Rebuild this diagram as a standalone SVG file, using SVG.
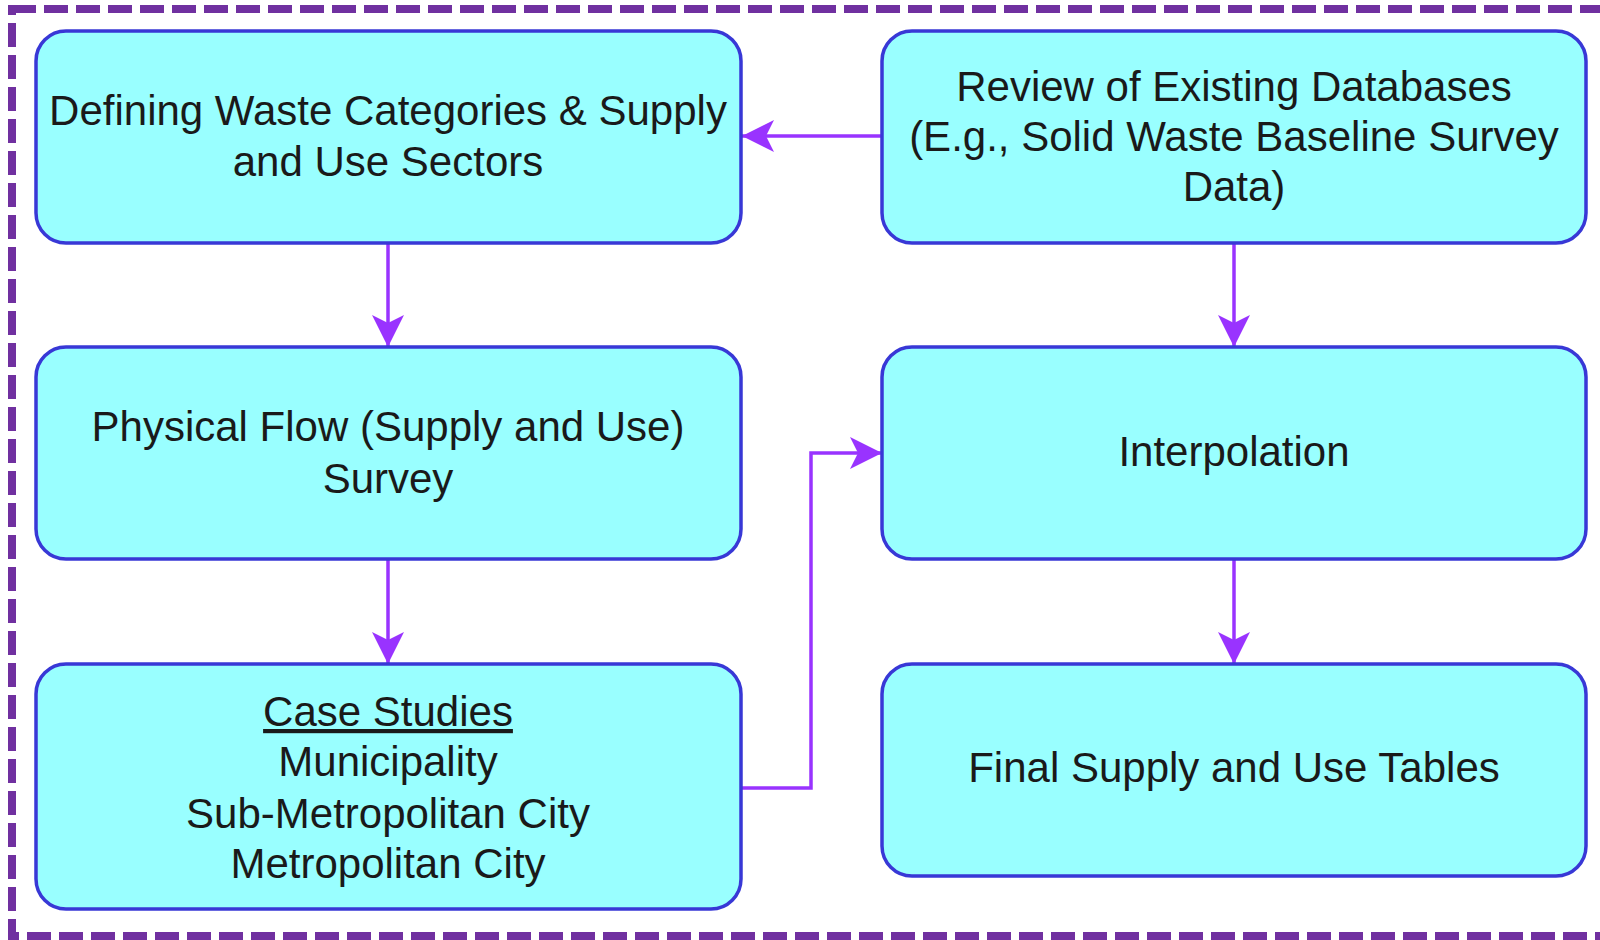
<svg xmlns="http://www.w3.org/2000/svg" width="1600" height="940" viewBox="0 0 1600 940">
<defs>
<style>
.box{fill:#99ffff;stroke:#3838d6;stroke-width:3.5}
.t{font-family:"Liberation Sans",Arial,sans-serif;font-size:42px;fill:#1a1a1a;text-anchor:middle}
.c{fill:none;stroke:#9933ff;stroke-width:3.5}
</style>
<marker id="ah" viewBox="0 0 32 32" refX="32" refY="16" markerWidth="32" markerHeight="32" markerUnits="userSpaceOnUse" orient="auto">
<path d="M32,16 L0,0 L8,16 L0,32 Z" fill="#9933ff"/>
</marker>
</defs>
<rect width="1600" height="940" fill="#ffffff"/>
<rect x="12" y="9" width="1620" height="927" fill="none" stroke="#7030a0" stroke-width="8" stroke-dasharray="24 8"/>
<g id="connectors">
<path class="c" d="M882,136 L742,136" marker-end="url(#ah)"/>
<path class="c" d="M388,243 L388,347" marker-end="url(#ah)"/>
<path class="c" d="M388,559 L388,664" marker-end="url(#ah)"/>
<path class="c" d="M741,788 L811,788 L811,453 L882,453" marker-end="url(#ah)"/>
<path class="c" d="M1234,243 L1234,347" marker-end="url(#ah)"/>
<path class="c" d="M1234,559 L1234,664" marker-end="url(#ah)"/>
</g>
<g id="n1">
<rect class="box" x="36" y="31" width="705" height="212" rx="30"/>
<text class="t" x="388" y="125">Defining Waste Categories &amp; Supply</text>
<text class="t" x="388" y="176">and Use Sectors</text>
</g>
<g id="n2">
<rect class="box" x="882" y="31" width="704" height="212" rx="30"/>
<text class="t" x="1234" y="101">Review of Existing Databases</text>
<text class="t" x="1234" y="151">(E.g., Solid Waste Baseline Survey</text>
<text class="t" x="1234" y="201">Data)</text>
</g>
<g id="n3">
<rect class="box" x="36" y="347" width="705" height="212" rx="30"/>
<text class="t" x="388" y="441">Physical Flow (Supply and Use)</text>
<text class="t" x="388" y="493">Survey</text>
</g>
<g id="n4">
<rect class="box" x="882" y="347" width="704" height="212" rx="30"/>
<text class="t" x="1234" y="466">Interpolation</text>
</g>
<g id="n5">
<rect class="box" x="36" y="664" width="705" height="245" rx="30"/>
<text class="t" x="388" y="726" text-decoration="underline">Case Studies</text>
<text class="t" x="388" y="776">Municipality</text>
<text class="t" x="388" y="828">Sub-Metropolitan City</text>
<text class="t" x="388" y="878">Metropolitan City</text>
</g>
<g id="n6">
<rect class="box" x="882" y="664" width="704" height="212" rx="30"/>
<text class="t" x="1234" y="782">Final Supply and Use Tables</text>
</g>
</svg>
